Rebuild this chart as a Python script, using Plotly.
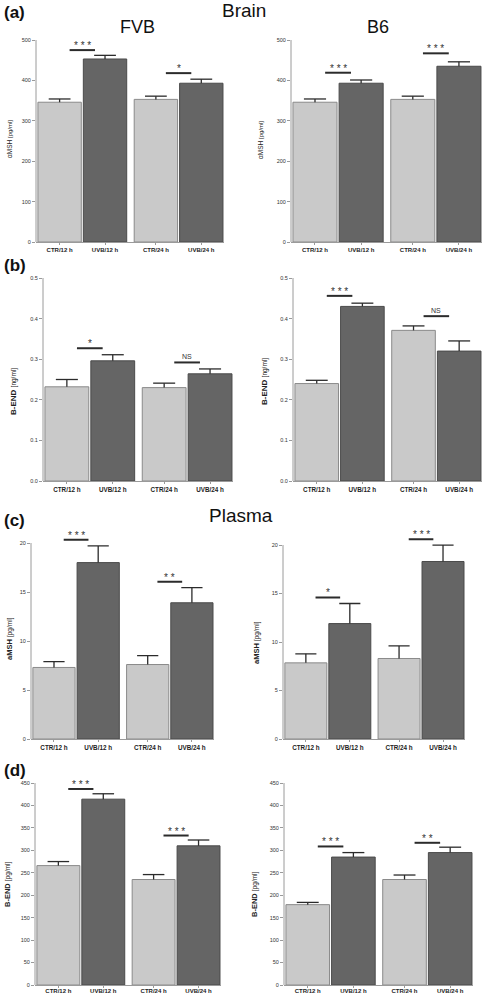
import plotly.graph_objects as go

# ---------------- data ----------------
categories = ["CTR/12 h", "UVB/12 h", "CTR/24 h", "UVB/24 h"]

brain_msh_fvb = [346, 453, 353, 393]
brain_msh_fvb_err = [8, 9, 8, 10]
brain_msh_b6 = [346, 393, 353, 435]
brain_msh_b6_err = [8, 8, 8, 11]

brain_end_fvb = [0.232, 0.296, 0.230, 0.264]
brain_end_fvb_err = [0.018, 0.015, 0.011, 0.012]
brain_end_b6 = [0.240, 0.430, 0.371, 0.320]
brain_end_b6_err = [0.008, 0.008, 0.011, 0.025]

plasma_msh_fvb = [7.3, 18.0, 7.6, 13.9]
plasma_msh_fvb_err = [0.6, 1.7, 0.9, 1.55]
plasma_msh_b6 = [7.85, 11.9, 8.3, 18.3]
plasma_msh_b6_err = [0.93, 2.07, 1.3, 1.69]

plasma_end_fvb = [266, 414, 235, 310]
plasma_end_fvb_err = [9, 12, 11, 13]
plasma_end_b6 = [179, 285, 235, 295]
plasma_end_b6_err = [5, 10, 10, 12]

# significance: (pair index, label, bar level)
sig_a_fvb = [(0, "***", 475), (1, "*", 418)]
sig_a_b6 = [(0, "***", 419), (1, "***", 467)]
sig_b_fvb = [(0, "*", 0.327), (1, "NS", 0.292)]
sig_b_b6 = [(0, "***", 0.456), (1, "NS", 0.406)]
sig_c_fvb = [(0, "***", 20.34), (1, "**", 16.04)]
sig_c_b6 = [(0, "*", 14.6), (1, "***", 20.58)]
sig_d_fvb = [(0, "***", 436.7), (1, "***", 333)]
sig_d_b6 = [(0, "***", 308.6), (1, "**", 316.8)]

# ---------------- layout helpers ----------------
W, H = 482, 996
FONT = "Liberation Sans, Arial, sans-serif"
LIGHT, DARK = "#c9c9c9", "#656565"
LIGHT_EDGE, DARK_EDGE = "#8a8a8a", "#4a4a4a"
AXC = "#9a9a9a"
GAP = 0.12
pos = [i + GAP * (i // 2) for i in range(4)]
XR = [-0.52, pos[-1] + 0.5]
CAP = 0.24
SIG_HALF = 0.28

msh_title_a = "αMSH <span style='font-size:6px'>[pg/ml]</span>"
end_title_ng = "<b>B-END</b> <span style='font-size:6.5px'>[ng/ml]</span>"
msh_title_c = "<b>aMSH</b> <span style='font-size:6.5px'>[pg/ml]</span>"
end_title_pg = "<b>B-END</b> <span style='font-size:6.5px'>[pg/ml]</span>"

panels = [
    dict(v=brain_msh_fvb, e=brain_msh_fvb_err, sig=sig_a_fvb, top=500, rmax=500, tv=list(range(0, 501, 100)), fmt="d",
         x0=36, x1=224, ytop_px=40, y0_px=242, title=msh_title_a, tx=10, ty=139, tfs=6.5, xfs=6.0, so=0),
    dict(v=brain_msh_b6, e=brain_msh_b6_err, sig=sig_a_b6, top=500, rmax=500, tv=list(range(0, 501, 100)), fmt="d",
         x0=291, x1=482, ytop_px=40, y0_px=242, title=msh_title_a, tx=261, ty=140, tfs=6.5, xfs=6.0, so=0),
    dict(v=brain_end_fvb, e=brain_end_fvb_err, sig=sig_b_fvb, top=0.5, rmax=0.5, tv=[0, 0.1, 0.2, 0.3, 0.4, 0.5], fmt=".1f",
         x0=43, x1=233, ytop_px=278, y0_px=481, title=end_title_ng, tx=13, ty=392, tfs=8, xfs=6.3, so=0),
    dict(v=brain_end_b6, e=brain_end_b6_err, sig=sig_b_b6, top=0.5, rmax=0.5, tv=[0, 0.1, 0.2, 0.3, 0.4, 0.5], fmt=".1f",
         x0=293, x1=482, ytop_px=278, y0_px=481, title=end_title_ng, tx=264, ty=382, tfs=8, xfs=6.3, so=0),
    dict(v=plasma_msh_fvb, e=plasma_msh_fvb_err, sig=sig_c_fvb, top=20, rmax=21, tv=[0, 5, 10, 15, 20], fmt="d",
         x0=31, x1=214, ytop_px=543, y0_px=739, title=msh_title_c, tx=9, ty=639, tfs=7.5, xfs=6.3, so=0),
    dict(v=plasma_msh_b6, e=plasma_msh_b6_err, sig=sig_c_b6, top=20, rmax=21, tv=[0, 5, 10, 15, 20], fmt="d",
         x0=283, x1=465, ytop_px=545, y0_px=739, title=msh_title_c, tx=256, ty=643, tfs=7.5, xfs=6.3, so=0),
    dict(v=plasma_end_fvb, e=plasma_end_fvb_err, sig=sig_d_fvb, top=450, rmax=450, tv=list(range(0, 451, 50)), fmt="d",
         x0=35, x1=221, ytop_px=783, y0_px=985, title=end_title_pg, tx=7, ty=884, tfs=7.5, xfs=6.0, so=-2),
    dict(v=plasma_end_b6, e=plasma_end_b6_err, sig=sig_d_b6, top=450, rmax=450, tv=list(range(0, 451, 50)), fmt="d",
         x0=284, x1=473, ytop_px=783, y0_px=985, title=end_title_pg, tx=254, ty=894, tfs=7.5, xfs=6.0, so=-2),
]

fig = go.Figure()
shapes, annotations = [], []
layout_axes = {}

for n, p in enumerate(panels, start=1):
    xa = "x" if n == 1 else f"x{n}"
    ya = "y" if n == 1 else f"y{n}"
    xkey = "xaxis" if n == 1 else f"xaxis{n}"
    ykey = "yaxis" if n == 1 else f"yaxis{n}"

    top_px = p["y0_px"] - (p["y0_px"] - p["ytop_px"]) * p["rmax"] / p["top"]
    layout_axes[xkey] = dict(
        domain=[p["x0"] / W, min(p["x1"] / W, 1.0)], range=XR, anchor=ya,
        tickmode="array", tickvals=pos, ticktext=categories,
        showline=True, linecolor=AXC, linewidth=1, ticks="outside", ticklen=2, tickcolor=AXC,
        ticklabelstandoff=p["so"],
        tickfont=dict(family=FONT, size=p["xfs"], color="#222", weight="bold"),
        showgrid=False, zeroline=False, fixedrange=True, automargin=False,
    )
    layout_axes[ykey] = dict(
        domain=[1 - p["y0_px"] / H, 1 - top_px / H], range=[0, p["rmax"]], anchor=xa,
        tickmode="array", tickvals=p["tv"], tickformat=p["fmt"],
        showline=False, ticks="outside", ticklen=3, tickcolor=AXC,
        tickfont=dict(family=FONT, size=5.5, color="#333"),
        showgrid=False, zeroline=False, fixedrange=True, automargin=False,
    )
    shapes.append(dict(type="line", xref=f"{xa} domain", yref=ya, x0=0, x1=0, y0=0, y1=p["top"],
                       line=dict(color=AXC, width=1)))

    fig.add_trace(go.Bar(
        x=pos, y=p["v"], width=0.955, xaxis=xa, yaxis=ya,
        marker=dict(color=[LIGHT, DARK, LIGHT, DARK],
                    line=dict(color=[LIGHT_EDGE, DARK_EDGE, LIGHT_EDGE, DARK_EDGE], width=1)),
        showlegend=False, hoverinfo="skip",
    ))

    ex, ey = [], []
    for xi, vi, ei in zip(pos, p["v"], p["e"]):
        ex += [xi, xi, None, xi - CAP, xi + CAP, None]
        ey += [vi, vi + ei, None, vi + ei, vi + ei, None]
    fig.add_trace(go.Scatter(x=ex, y=ey, mode="lines", xaxis=xa, yaxis=ya,
                             line=dict(color="#2b2b2b", width=1.3), showlegend=False, hoverinfo="skip"))

    sx, sy = [], []
    for pair, label, lvl in p["sig"]:
        c = (pos[2 * pair] + pos[2 * pair + 1]) / 2
        sx += [c - SIG_HALF, c + SIG_HALF, None]
        sy += [lvl, lvl, None]
        if label == "NS":
            annotations.append(dict(xref=xa, yref=ya, x=c, y=lvl, text="NS", showarrow=False,
                                    yanchor="bottom", yshift=0,
                                    font=dict(family=FONT, size=7, color="#333")))
        else:
            annotations.append(dict(xref=xa, yref=ya, x=c, y=lvl, text=" ".join(label), showarrow=False,
                                    yanchor="bottom", yshift=-3,
                                    font=dict(family=FONT, size=10, color="#333")))
    fig.add_trace(go.Scatter(x=sx, y=sy, mode="lines", xaxis=xa, yaxis=ya,
                             line=dict(color="#2b2b2b", width=2), showlegend=False, hoverinfo="skip"))

    annotations.append(dict(xref="paper", yref="paper", x=p["tx"] / W, y=1 - p["ty"] / H,
                            text=p["title"], textangle=-90, showarrow=False,
                            xanchor="center", yanchor="middle",
                            font=dict(family=FONT, size=p["tfs"], color="#222")))


def txt(x, y, s, size, bold=False, anchor="center"):
    annotations.append(dict(xref="paper", yref="paper", x=x / W, y=1 - y / H, text=s, showarrow=False,
                            xanchor=anchor, yanchor="middle",
                            font=dict(family=FONT, size=size, color="#111",
                                      weight="bold" if bold else "normal")))


txt(2, 12, "(a)", 17, bold=True, anchor="left")
txt(2, 265, "(b)", 17, bold=True, anchor="left")
txt(2, 520, "(c)", 17, bold=True, anchor="left")
txt(2, 770, "(d)", 17, bold=True, anchor="left")
txt(244, 10, "Brain", 19)
txt(241, 515, "Plasma", 19)
txt(137, 27, "FVB", 18)
txt(378, 27, "B6", 18)

fig.update_layout(
    width=W, height=H, margin=dict(l=0, r=0, t=0, b=0),
    paper_bgcolor="white", plot_bgcolor="white",
    showlegend=False, shapes=shapes, annotations=annotations,
    font=dict(family=FONT),
    **layout_axes,
)

fig.write_html("out.html", config={"displayModeBar": False},
               post_script="document.body.style.margin='0';document.body.style.overflow='hidden';")
